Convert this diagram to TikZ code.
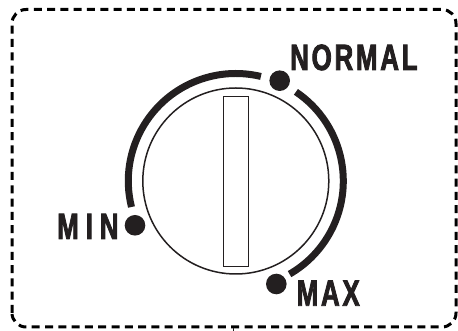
\documentclass[tikz,border=0pt]{standalone}
\usepackage{fontspec}
\newfontfamily\dialfont[LetterSpace=7.5,FakeStretch=0.71,FakeBold=2.2]{Liberation Sans Bold}
\newfontfamily\dialwidefont[LetterSpace=19,FakeStretch=0.71,FakeBold=2.2]{Liberation Sans Bold}
\definecolor{inkblack}{HTML}{231F20}
\usetikzlibrary{calc,positioning}
\tikzset{
    scaletrack/.style={draw=inkblack, line width=7pt},
    knobline/.style={draw=inkblack, line width=1.5pt},
    dialtext/.style={text=inkblack, inner sep=0pt, font=\fontsize{36.5}{36.5}\selectfont\dialfont},
    framedash/.style={draw=black, line width=3pt, rounded corners=14pt, dash pattern=on 8pt off 5.3pt}
}
\begin{document}
\begin{tikzpicture}[x=1pt, y=1pt]
    % Fix the page to the size of the reference
    \useasboundingbox (0,0) rectangle (458,331);

    % Define the radii and the dial centre
    \def\RK{93}
    \def\RT{107.5}
    \def\RD{10.3}
    \coordinate (C) at (235.8,150);

    % Draw the dashed frame
    \draw[framedash] (12,4) rectangle (456,321.5);
    \draw[inkblack, line width=0.8pt] (233,0) -- (233,3);

    % Draw the scale arcs
    \draw[scaletrack] ($(C)+(194:\RT)$) arc (194:76.5:\RT);
    \draw[scaletrack] ($(C)+(56:\RT)$) arc (56:-60:\RT);

    % Draw the knob and its grip
    \draw[knobline] (C) circle (\RK);
    \draw[knobline] (223.7,64.7) rectangle (248.3,234.3);

    % Mark the three positions
    \coordinate (Pmin) at (135,105.7);
    \coordinate (Pnormal) at (279.7,250.3);
    \coordinate (Pmax) at (276.3,47);
    \fill[inkblack] (Pmin) circle (\RD);
    \fill[inkblack] (Pnormal) circle (\RD);
    \fill[inkblack] (Pmax) circle (\RD);

    % Label the positions
    \node[dialtext, anchor=base west, font=\fontsize{36.5}{36.5}\selectfont\dialwidefont] (lblmin) at (57,92) {MIN};
    \node[dialtext, anchor=base west] (lblnormal) at (290,261) {NORMAL};
    \node[dialtext, anchor=base west] (lblmax) at (296.5,25.3) {MAX};
\end{tikzpicture}
\end{document}
